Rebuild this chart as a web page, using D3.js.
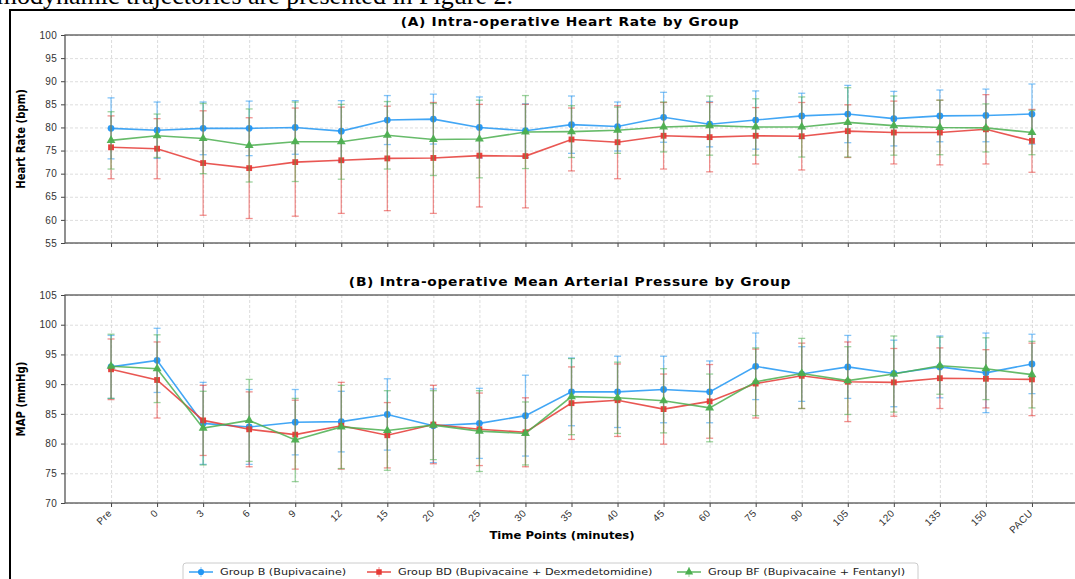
<!DOCTYPE html>
<html>
<head>
<meta charset="utf-8">
<script src="https://cdn.jsdelivr.net/npm/d3@7"></script>
<style>
  body { margin: 0; background: #fff; }
  svg { display: block; font-family: "DejaVu Sans", sans-serif; }
  .grid line { stroke: #d4d4d4; stroke-dasharray: 3,2; stroke-width: 0.8; }
  .grid .domain { display: none; }
  .axis text { fill: #333; font-size: 10px; letter-spacing: 0.3px; }
  .axis line { stroke: #444; }
  .axis .domain { display: none; }
</style>
</head>
<body>
<svg id="chart"></svg>
<script>
// time points on the x axis
const timePoints = ['Pre', '0', '3', '6', '9', '12', '15', '20', '25', '30', '35', '40', '45', '60', '75', '90', '105', '120', '135', '150', 'PACU'];

// (A) heart rate, mean and SD per group
const hrGroupB = [79.8, 79.4, 79.8, 79.8, 80.0, 79.2, 81.6, 81.8, 80.0, 79.3, 80.6, 80.2, 82.2, 80.7, 81.6, 82.5, 82.9, 81.9, 82.5, 82.6, 82.9];
const hrGroupBSd = [6.6, 6.1, 5.7, 5.9, 5.8, 6.6, 5.3, 5.4, 6.6, 5.8, 6.2, 5.3, 5.4, 4.9, 6.3, 4.9, 6.2, 5.9, 5.6, 5.7, 6.5];
const hrGroupBD = [75.7, 75.4, 72.3, 71.2, 72.5, 72.9, 73.3, 73.4, 73.9, 73.8, 77.4, 76.8, 78.2, 77.9, 78.2, 78.1, 79.2, 78.9, 78.9, 79.6, 77.1];
const hrGroupBDSd = [6.8, 6.5, 11.3, 10.9, 11.7, 11.5, 11.3, 12.0, 11.1, 11.2, 6.8, 7.9, 7.2, 7.5, 6.1, 7.3, 5.7, 6.8, 7.0, 7.5, 6.8];
const hrGroupBF = [77.2, 78.2, 77.6, 76.1, 76.9, 76.9, 78.3, 77.4, 77.5, 79.0, 79.1, 79.4, 80.1, 80.4, 80.1, 80.1, 81.1, 80.4, 80.0, 79.9, 78.9];
const hrGroupBFSd = [6.2, 4.7, 7.6, 7.9, 8.6, 8.1, 7.3, 7.8, 8.4, 7.9, 5.6, 5.0, 5.4, 6.4, 6.1, 6.5, 7.5, 6.4, 5.9, 5.2, 4.8];

// (B) mean arterial pressure, mean and SD per group
const mapGroupB = [92.9, 94.0, 83.4, 82.8, 83.6, 83.7, 84.9, 83.0, 83.4, 84.7, 88.7, 88.7, 89.1, 88.7, 93.0, 91.7, 92.9, 91.8, 92.9, 91.9, 93.4];
const mapGroupBSd = [5.3, 5.4, 6.9, 6.3, 5.5, 5.1, 6.0, 6.2, 5.9, 6.8, 5.7, 6.0, 5.6, 5.2, 5.6, 4.6, 5.3, 5.6, 5.2, 6.7, 5.0];
const mapGroupBD = [92.5, 90.7, 83.9, 82.4, 81.5, 83.0, 81.4, 83.2, 82.4, 81.9, 86.8, 87.3, 85.8, 87.1, 90.1, 91.4, 90.4, 90.3, 91.0, 90.9, 90.8];
const mapGroupBDSd = [5.1, 6.4, 5.9, 6.3, 5.8, 7.3, 5.5, 6.6, 6.1, 5.8, 6.1, 6.1, 5.9, 6.2, 5.8, 5.5, 6.7, 5.7, 5.1, 4.9, 6.1];
const mapGroupBF = [93.0, 92.6, 82.6, 83.9, 80.6, 82.8, 82.2, 83.1, 82.1, 81.7, 87.9, 87.7, 87.2, 86.0, 90.4, 91.8, 90.6, 91.7, 93.1, 92.6, 91.6];
const mapGroupBFSd = [5.4, 5.7, 6.2, 6.9, 7.0, 7.0, 6.7, 5.8, 6.8, 5.3, 6.4, 6.0, 5.4, 5.7, 5.7, 5.9, 5.7, 6.4, 4.8, 5.2, 5.6];

const hrTicks = [55, 60, 65, 70, 75, 80, 85, 90, 95, 100];
const mapTicks = [70, 75, 80, 85, 90, 95, 100, 105];

const groupNames = ['Group B (Bupivacaine)', 'Group BD (Bupivacaine + Dexmedetomidine)', 'Group BF (Bupivacaine + Fentanyl)'];
const groupColors = ['#2196F3', '#E53935', '#4CAF50'];
const groupShapes = [d3.symbolCircle, d3.symbolSquare, d3.symbolTriangle];

class ErrorLineChart {

  constructor(_config, _data) {
    this.config = {
      parent: _config.parent,
      left: _config.left || 65,
      top: _config.top,
      width: _config.width || 1013,
      height: _config.height || 208,
      ticks: _config.ticks,
      title: _config.title,
      yLabel: _config.yLabel,
      showXLabels: _config.showXLabels || false
    }
    this.data = _data;
    this.initVis();
  }

  initVis() {
    let vis = this;
    vis.width = vis.config.width;
    vis.height = vis.config.height;

    vis.xScale = d3.scalePoint()
      .domain(timePoints)
      .range([0, vis.width])
      .padding(1);

    vis.yScale = d3.scaleLinear()
      .domain(d3.extent(vis.config.ticks))
      .range([vis.height, 0]);

    vis.chart = vis.config.parent.append('g')
      .attr('transform', `translate(${vis.config.left},${vis.config.top})`);

    // dashed gridlines
    vis.chart.append('g')
      .attr('class', 'grid')
      .call(d3.axisLeft(vis.yScale).tickValues(vis.config.ticks).tickSize(-vis.width).tickFormat(''));
    vis.chart.append('g')
      .attr('class', 'grid')
      .attr('transform', `translate(0,${vis.height})`)
      .call(d3.axisBottom(vis.xScale).tickSize(vis.height).tickFormat(''))
      .call(g => g.selectAll('line').attr('y2', -vis.height));

    vis.marks = vis.chart.append('g');

    vis.xAxisG = vis.chart.append('g')
      .attr('class', 'axis x-axis')
      .attr('transform', `translate(0,${vis.height})`);
    vis.yAxisG = vis.chart.append('g')
      .attr('class', 'axis y-axis');

    // spines
    vis.chart.append('rect')
      .attr('width', vis.width)
      .attr('height', vis.height)
      .attr('fill', 'none')
      .attr('stroke', '#555')
      .attr('stroke-width', 1.3);

    // the source figure is stretched sideways, so the texts are too
    vis.chart.append('text')
      .attr('transform', `translate(505,-9) scale(1.2,1)`)
      .attr('text-anchor', 'middle')
      .attr('font-size', '11.5px')
      .attr('font-weight', 'bold')
      .attr('letter-spacing', '0.6px')
      .text(vis.config.title);

    vis.chart.append('text')
      .attr('transform', `translate(-40,${vis.height / 2}) rotate(-90) scale(0.88,1)`)
      .attr('text-anchor', 'middle')
      .attr('font-size', '11.5px')
      .attr('font-weight', 'bold')
      .text(vis.config.yLabel);

    vis.updateVis();
  }

  updateVis() {
    let vis = this;
    vis.series = vis.data.map(s => s.means.map((m, i) => ({ t: timePoints[i], m: m, sd: s.sd[i] })));
    vis.renderVis();
  }

  renderVis() {
    let vis = this;
    const x = vis.xScale, y = vis.yScale;
    const line = d3.line().x(d => x(d.t)).y(d => y(d.m));

    vis.data.forEach((s, k) => {
      const pts = vis.series[k];
      const g = vis.marks.append('g');

      // error bars with caps
      const eb = g.selectAll('.eb').data(pts).join('g')
        .attr('stroke', s.color)
        .attr('stroke-opacity', 0.55)
        .attr('stroke-width', 1.3);
      eb.append('line')
        .attr('x1', d => x(d.t)).attr('x2', d => x(d.t))
        .attr('y1', d => y(d.m - d.sd)).attr('y2', d => y(d.m + d.sd));
      eb.append('line')
        .attr('x1', d => x(d.t) - 3.5).attr('x2', d => x(d.t) + 3.5)
        .attr('y1', d => y(d.m + d.sd)).attr('y2', d => y(d.m + d.sd));
      eb.append('line')
        .attr('x1', d => x(d.t) - 3.5).attr('x2', d => x(d.t) + 3.5)
        .attr('y1', d => y(d.m - d.sd)).attr('y2', d => y(d.m - d.sd));

      g.append('path')
        .datum(pts)
        .attr('d', line)
        .attr('fill', 'none')
        .attr('stroke', s.color)
        .attr('stroke-opacity', 0.85)
        .attr('stroke-width', 1.6);

      g.selectAll('.pt').data(pts).join('path')
        .attr('transform', d => `translate(${x(d.t)},${y(d.m)})`)
        .attr('d', d3.symbol().type(s.shape).size(s.shape === d3.symbolCircle ? 36 : 34))
        .attr('fill', s.color)
        .attr('fill-opacity', 0.95);
    });

    vis.yAxisG.call(d3.axisLeft(y).tickValues(vis.config.ticks).tickSize(4).tickPadding(4));

    vis.xAxisG.call(d3.axisBottom(x).tickSize(4).tickFormat(vis.config.showXLabels ? d => d : ''));
    if (vis.config.showXLabels) {
      vis.xAxisG.selectAll('text')
        .attr('font-size', '9px')
        .attr('text-anchor', 'end')
        .attr('dy', null)
        .attr('transform', 'translate(-4,6) rotate(-45)');
    }
  }
}

const svg = d3.select('#chart')
  .attr('width', 1075)
  .attr('height', 579);

svg.append('rect').attr('width', 1075).attr('height', 579).attr('fill', '#fff');

// cut-off line of the page text above the figure
svg.append('text')
  .attr('x', 513)
  .attr('y', 4)
  .attr('text-anchor', 'end')
  .attr('font-family', '"Liberation Serif", serif')
  .attr('font-size', '26px')
  .text('hemodynamic trajectories are presented in Figure 2.');

// figure frame
svg.append('path')
  .attr('d', 'M10,579V10H1075')
  .attr('fill', 'none')
  .attr('stroke', '#000')
  .attr('stroke-width', 2);

const makeSeries = (means, sds) => means.map((m, k) => ({
  name: groupNames[k], color: groupColors[k], shape: groupShapes[k], means: m, sd: sds[k]
}));

new ErrorLineChart({
  parent: svg, top: 35, ticks: hrTicks,
  title: '(A) Intra-operative Heart Rate by Group', yLabel: 'Heart Rate (bpm)'
}, makeSeries([hrGroupB, hrGroupBD, hrGroupBF], [hrGroupBSd, hrGroupBDSd, hrGroupBFSd]));

new ErrorLineChart({
  parent: svg, top: 295, ticks: mapTicks, showXLabels: true,
  title: '(B) Intra-operative Mean Arterial Pressure by Group', yLabel: 'MAP (mmHg)'
}, makeSeries([mapGroupB, mapGroupBD, mapGroupBF], [mapGroupBSd, mapGroupBDSd, mapGroupBFSd]));

svg.append('text')
  .attr('transform', 'translate(562,539) scale(1.06,1)')
  .attr('text-anchor', 'middle')
  .attr('font-size', '11px')
  .attr('font-weight', 'bold')
  .text('Time Points (minutes)');

// legend
const legend = svg.append('g').attr('transform', 'translate(183,563)');
legend.append('rect')
  .attr('width', 735).attr('height', 22).attr('rx', 3)
  .attr('fill', '#fff').attr('stroke', '#ccc');
const legendX = [6, 184, 494];
groupNames.forEach((name, k) => {
  const item = legend.append('g').attr('transform', `translate(${legendX[k]},9)`);
  item.append('line').attr('x1', 0).attr('x2', 24).attr('stroke', groupColors[k]).attr('stroke-width', 1.6).attr('stroke-opacity', 0.85);
  item.append('line').attr('x1', 12).attr('x2', 12).attr('y1', -5).attr('y2', 5).attr('stroke', groupColors[k]).attr('stroke-opacity', 0.55);
  item.append('path').attr('transform', 'translate(12,0)')
    .attr('d', d3.symbol().type(groupShapes[k]).size(30)).attr('fill', groupColors[k]);
  item.append('text').attr('transform', 'translate(31,3) scale(1.18,1)')
    .attr('font-size', '9.5px').attr('fill', '#222').text(name);
});
</script>
</body>
</html>
